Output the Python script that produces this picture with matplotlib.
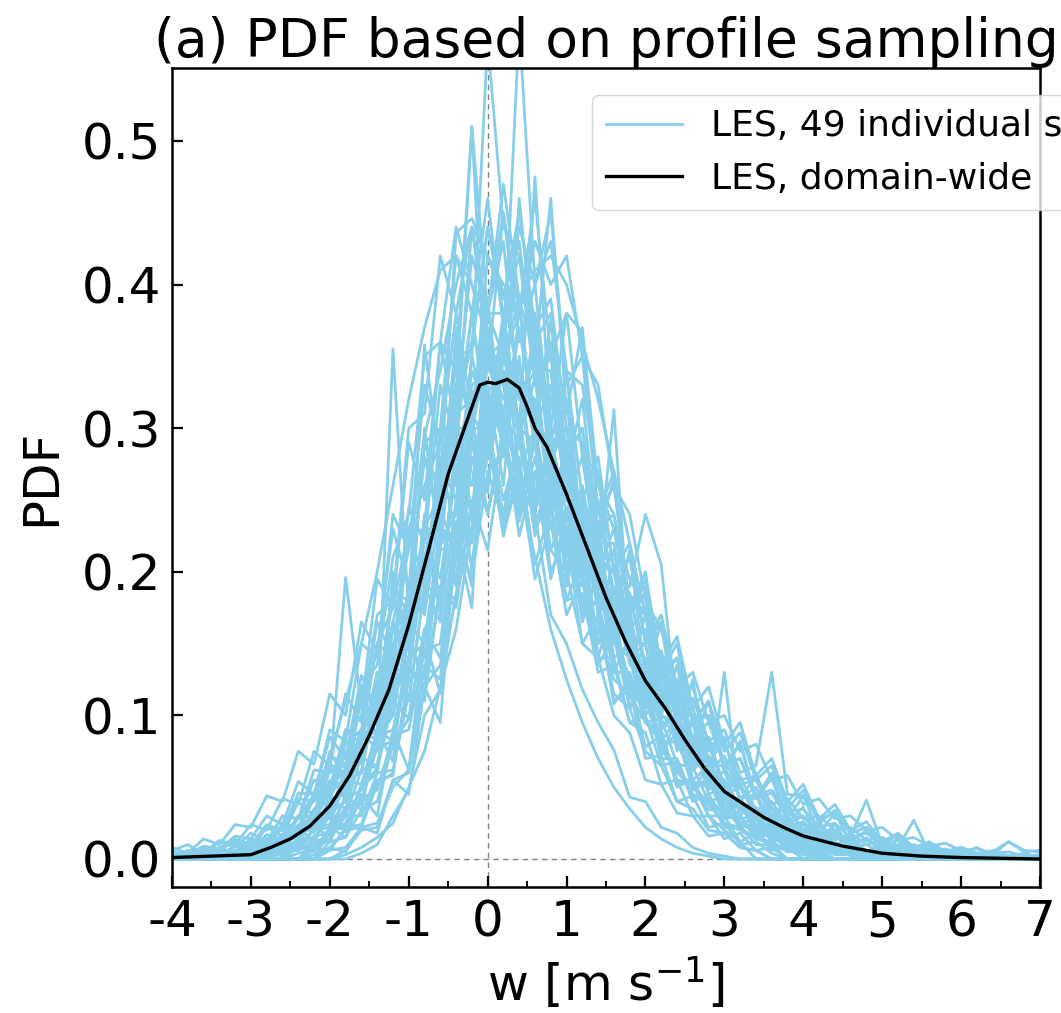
import matplotlib
matplotlib.use("Agg")
import matplotlib.pyplot as plt
from matplotlib.ticker import MultipleLocator
import numpy as np

plt.rcParams['font.family'] = ['DejaVu Sans']
plt.rcParams['axes.unicode_minus'] = False

# ---------------- data ----------------
# Domain-wide PDF (black line)
w_domain = [-4.0, -3.5, -3.0, -2.75, -2.5, -2.25, -2.0, -1.75, -1.5, -1.25, -1.0,
            -0.75, -0.5, -0.25, -0.1, 0.0, 0.1, 0.25, 0.4, 0.5, 0.6, 0.75, 1.0,
            1.25, 1.5, 1.75, 2.0, 2.25, 2.5, 2.75, 3.0, 3.25, 3.5, 3.75, 4.0,
            4.5, 5.0, 5.5, 6.0, 7.0]
pdf_domain = [0.001, 0.002, 0.003, 0.008, 0.014, 0.023, 0.037, 0.058, 0.086, 0.118,
              0.163, 0.215, 0.268, 0.307, 0.330, 0.332, 0.331, 0.334, 0.328, 0.315,
              0.300, 0.287, 0.254, 0.218, 0.182, 0.151, 0.124, 0.105, 0.083, 0.063,
              0.047, 0.038, 0.029, 0.022, 0.016, 0.009, 0.004, 0.002, 0.001, 0.000]

# Bin centres of the individual-sample PDFs (w from -4 to 7, step 0.2)
w_samples = [round(-4.0 + 0.2 * i, 1) for i in range(56)]

# 49 individual sample PDFs, values in units of 1e-3 (omitted trailing values are zero)
sample_pdf_milli = [
    [0,0,0,0,0,0,0,0,0,6, 14,34,40,82,100,160,185,290,310,420, 380,470,390,380,300,290,215,205,150,140, 95,88,55,52,30,20,12],
    [0,0,0,0,0,0,0,0,0,0, 12,15,34,40,80,98,160,180,290,300, 420,390,450,370,390,300,290,210,200,145, 140,95,90,52,55,30,30,14,18,6, 8],
    [0,0,0,0,0,0,0,4,12,14, 32,40,82,100,160,180,290,300,420,380, 460,370,390,290,300,215,200,140,140,95, 88,52,55,30,30,14,18,6,8],
    [0,0,0,0,0,0,0,0,0,0, 6,8,22,25,50,62,120,135,210,240, 350,360,440,400,430,340,330,260,240,180, 170,120,115,75,65,42,40,24,22,12, 10,5],
    [0,0,0,0,0,0,6,8,20,25, 50,62,120,135,210,240,350,360,440,400, 380,380,300,290,215,200,150,140,100,88, 55,52,32,30,16,18,8,6],
    [1,0,3,2,4,2,9,10,20,22, 40,48,82,90,140,150,225,230,300,300, 350,320,345,290,295,240,235,185,178,138, 130,100,95,70,62,44,42,28,28,18, 17,11,11,6,6,3,3,1],
    [0,0,2,0,3,0,5,6,14,14, 30,30,62,66,115,110,190,185,275,260, 345,310,370,300,330,250,280,205,215,150, 160,110,125,80,85,50,52,32,35,22, 24,12,16,8,10,4,5,2,2],
    [0,3,0,5,2,9,8,22,20,44, 46,90,85,150,140,245,220,330,290,380, 300,360,270,300,230,240,175,180,130,130, 95,98,66,64,40,44,28,30,16,18, 10,12,6,6,2,4,0,2],
    [0,0,0,0,0,3,2,4,9,8, 20,22,42,48,86,90,145,150,235,225, 320,290,370,310,360,280,300,230,240,180, 190,130,140,95,100,65,70,42,46,28, 30,18,20,10,14,6,7,3,4,2, 2],
    [3,0,4,2,9,8,22,20,46,45, 90,82,150,140,240,215,330,290,380,310, 360,280,310,230,250,180,185,130,135,95, 100,65,68,40,45,28,30,16,18,10, 12,6,6,3,4,1,2],
    [4,2,7,5,14,10,24,20,42,40, 72,66,110,100,160,150,225,195,270,240, 300,250,290,235,260,205,225,175,190,140, 150,105,115,85,95,65,70,45,48,32, 35,22,25,15,18,10,13,7,9,5, 6,3,4,2,3,1],
    [0,0,0,5,3,9,8,17,15,30, 30,55,52,90,82,135,120,190,175,250, 215,290,240,300,240,280,210,250,185,210, 150,170,120,130,95,100,75,80,55,58, 38,42,28,30,20,22,13,15,9,11, 6,7,4,5,2,3],
    [8,4,14,10,24,22,44,40,75,66, 115,100,165,145,230,190,280,230,310,240, 300,225,270,195,235,170,195,135,155,105, 120,82,98,62,72,45,50,30,36,22, 26,15,18,10,13,7,9,4,6,3, 4,1,2,0],
    [0,0,0,0,0,0,0,0,0,12, 12,36,38,88,355,170,175,300,300,440, 380,450,360,400,290,300,210,215,140,150, 95,90,50,55,30,30,12,18,6,8],
    [0,0,0,0,0,0,0,0,0,3, 8,20,22,52,60,125,130,220,240,350, 570,440,420,360,380,280,300,220,220,150, 150,90,110,55,65,35,40,16,20,8, 10],
    [0,0,0,0,3,5,6,14,15,30, 32,62,68,110,115,180,358,270,260,340, 310,360,300,320,260,275,205,210,155,160, 115,118,82,82,55,52,36,36,24,22, 14,15,8,9,4,5,2,2,0],
    [0,0,0,0,0,2,4,9,9,20, 22,42,48,85,90,140,150,230,225,310, 290,370,300,360,280,300,235,245,180,190, 240,205,100,100,68,64,42,45,26,30, 15,20,10,14,5,8,2,4,0],
    [2,0,4,2,6,5,14,14,30,30, 62,65,115,110,185,180,280,260,345,300, 365,300,330,255,280,205,215,150,160,112, 118,80,82,54,50,130,34,28,22,14, 15,8,9,4,5,2,2,1],
    [0,3,2,7,5,13,10,24,20,42, 40,75,66,115,100,165,150,230,195,280, 240,300,245,290,230,255,200,220,170,185, 135,145,105,112,82,90,60,65,130,45, 44,28,32,18,22,12,16,8,11,5, 8,3,6,2,4,1],
    [0,0,0,0,0,0,0,6,6,22, 24,55,60,130,130,225,230,360,340,510, 380,430,320,350,240,260,170,180,110,118, 70,72,40,44,22,25,10,12,4],
    [0,0,0,0,0,0,0,0,0,0, 0,6,20,22,55,60,135,125,230,230, 380,350,580,400,450,330,350,240,260,175, 175,115,120,70,70,42,42,22,24,12, 12,6],
    [0,0,2,0,4,2,8,8,20,20, 42,45,86,84,145,140,235,215,320,510, 300,380,300,475,300,290,205,220,155,165, 110,120,80,85,52,54,35,36,22,22, 13,14,7,9,3,4,1,2,0],
    [6,10,3,12,8,18,12,30,28,55, 50,90,80,130,120,190,170,245,210,290, 240,300,235,280,215,245,190,210,155,170, 120,135,95,105,75,80,55,58,38,42, 28,30,20,22,13,15,9,10,5,7, 4,8,3,12,5,6],
    [0,0,0,2,0,4,0,6,6,13, 14,30,30,60,62,115,110,190,180,280, 260,350,305,370,290,340,250,280,200,220, 150,165,110,120,80,82,52,55,34,36, 20,24,14,16,41,10,8,27,4,3, 2,1],
    [0,0,0,0,0,0,0,0,8,5, 22,24,50,60,130,125,225,235,350,355, 440,390,430,340,340,250,245,180,165,120, 115,75,65,45,40,25,22,14,12,6, 6,2],
    [0,4,2,6,5,14,12,30,28,62, 60,196,105,195,175,290,250,360,300,380, 300,340,250,290,200,225,150,170,108,125, 78,86,52,55,34,36,22,24,13,15, 8,9,4,5,2,3,1],
    [2,6,4,13,10,24,20,42,38,75, 65,115,95,165,140,230,190,280,225,310, 240,300,225,270,195,240,165,200,130,155, 100,120,78,98,60,72,42,50,30,36, 20,26,13,18,10,13,6,9,4,6, 2,4,1,2,0,0],
    [0,0,0,0,0,0,4,14,14,35, 40,85,100,170,180,300,310,420,380,440, 360,330,260,240,170,150,118,95,76,43, 40,22,18,8,4,2],
    [0,0,0,0,0,0,0,0,0,0, 0,0,4,10,30,48,100,118,185,225, 300,350,380,430,400,420,350,330,260,240, 180,160,115,100,65,55,35,28,15,10, 6,3],
    [0,2,0,3,0,6,3,13,10,30, 28,65,60,115,110,190,175,275,250,350, 300,370,295,335,250,285,195,235,150,175, 105,130,75,95,48,62,30,45,18,28, 10,18,5,11,2,6,1,3,0],
    [0,0,0,0,0,0,2,6,8,16, 18,36,40,78,82,140,140,215,220,300, 300,350,320,340,300,380,367,260,230,195, 175,130,120,82,80,50,52,30,32,18, 20,10,11,5,6,2,2],
    [0,0,0,0,0,0,0,0,0,0, 20,22,52,62,120,130,205,240,330,360, 440,380,420,330,350,260,250,175,170,115, 118,70,70,42,42,22,22,10,10],
    [0,0,2,0,6,2,12,5,24,10, 42,35,72,62,110,98,160,140,225,195, 270,235,300,245,290,225,260,200,230,170, 195,135,155,105,120,80,95,58,70,40, 52,28,38,20,26,12,18,8,12,5, 8,4,5,12,6,5],
    [0,0,3,0,6,4,14,10,30,28, 66,60,118,105,190,170,290,250,360,300, 390,290,345,250,290,200,225,150,170,105, 125,75,88,48,55,32,38,20,24,12, 15,6,9,3,5,1,2,0],
    [0,0,0,0,0,0,0,0,0,7, 6,22,24,55,58,130,125,220,225,330, 340,450,380,460,350,380,280,270,200,185, 130,135,80,85,45,50,25,28,12,14, 5],
    [3,0,5,8,12,8,22,16,40,30, 75,55,115,85,165,130,230,170,285,220, 310,230,300,225,270,195,250,170,205,135, 170,100,135,80,110,60,82,42,60,28, 44,18,32,12,20,8,13,5,9,3, 6,2,4,1,2,0],
    [0,0,0,0,2,0,5,2,10,5, 22,15,45,30,90,62,155,115,235,190, 330,260,385,300,375,270,320,225,265,175, 200,130,150,95,110,65,80,42,56,25, 36,14,24,8,15,4,8,2,4,1, 2],
    [0,4,0,7,3,14,8,25,22,45, 50,80,90,150,175,230,260,290,310,360, 350,330,300,290,240,215,175,160,125,115, 95,82,60,52,38,35,24,23,14,12, 8,6,3,3,1],
    [0,0,0,0,0,0,0,0,10,20, 36,50,86,120,165,215,295,340,400,440, 420,395,330,320,250,230,175,165,115,105, 75,65,40,35,20,18,8,6],
    [2,0,0,2,2,5,8,12,22,28, 45,58,90,100,150,170,230,255,310,320, 355,345,340,310,285,250,230,190,175,140, 128,100,92,68,60,42,40,28,26,16, 16,10,9,6,5,3,3,1,1],
    [0,2,5,3,9,7,17,12,30,22, 55,45,90,75,135,110,190,165,250,205, 290,240,300,250,280,220,250,190,215,160, 175,125,140,95,110,75,88,55,65,35, 48,25,34,18,22,11,16,8,11,5, 8,4,5,2,3,1],
    [0,0,0,0,0,0,0,0,0,0, 8,5,22,18,55,45,120,95,225,175, 370,300,460,350,460,310,370,240,270,170, 185,110,125,65,72,38,42,18,22,8, 12,3],
    [0,2,0,3,0,5,2,10,6,22, 16,45,34,90,68,160,115,235,190,295, 255,370,290,370,270,320,220,270,170,215, 125,165,90,125,65,85,40,60,26,40, 16,26,9,16,5,10,2,5,1,2],
    [2,0,4,2,6,3,14,8,30,18, 65,40,120,80,200,145,300,220,370,290, 390,280,350,240,300,190,240,140,180,105, 135,72,98,48,65,28,44,16,28,8, 18,4,10,2,5,0,2],
    [0,0,0,0,0,0,0,0,4,7, 19,25,50,63,120,135,210,260,436,446, 420,400,390,350,320,265,235,185,160,125, 110,78,62,45,38,25,20,14,11,5, 5,2],
    [5,3,9,7,16,14,30,24,54,45, 85,70,128,102,185,145,240,180,290,200, 295,225,280,205,245,180,210,150,170,118, 130,90,102,70,80,50,58,34,40,24, 30,16,20,11,14,7,10,5,7,3, 5,2,3,1,1,0],
    [0,0,0,0,0,0,0,0,0,0, 0,3,8,15,25,50,75,120,160,230, 280,350,390,410,420,400,360,320,270,220, 170,140,100,80,55,40,25,18,10,6, 3],
    [0,0,0,0,0,2,8,15,28,45, 70,110,150,200,260,320,370,410,420,400, 360,310,260,210,160,125,95,70,50,35, 22,14,8,4,2],
    [0,0,0,2,3,4,9,10,18,26, 34,56,70,104,118,170,198,255,280,325, 325,340,320,310,270,340,218,205,313,150, 120,112,86,78,57,50,38,34,24,21, 15,14,9,8,4,4,2,2,1],
]

x_ticks = [-4, -3, -2, -1, 0, 1, 2, 3, 4, 5, 6, 7]
y_ticks = [0.0, 0.1, 0.2, 0.3, 0.4, 0.5]

label_samples = "LES, 49 individual samples"
label_domain = "LES, domain-wide"

# ---------------- figure ----------------
fig = plt.figure(figsize=(10.61, 10.13), dpi=100)
ax = fig.add_axes([172/1061, 1 - 887/1013, 868/1061, 819/1013])

ax.axvline(0, color='gray', lw=1.0, ls=(0, (4, 3)), zorder=1)
ax.axhline(0, color='gray', lw=1.0, ls=(0, (4, 3)), zorder=1)

n = len(w_samples)
for k, row in enumerate(sample_pdf_milli):
    vals = np.zeros(n)
    r = np.array(row[:n], dtype=float) / 1000.0
    vals[:len(r)] = r
    ax.plot(w_samples, vals, color='skyblue', lw=2.0, zorder=2,
            label=label_samples if k == 0 else None)

ax.plot(w_domain, pdf_domain, color='black', lw=2.4, zorder=3, label=label_domain)

ax.set_xlim(-4, 7)
ax.set_ylim(-0.0195, 0.5508)
ax.set_xticks(x_ticks)
ax.set_xticklabels([str(t) for t in x_ticks])
ax.set_yticks(y_ticks)
ax.set_yticklabels([f"{t:.1f}" for t in y_ticks])
ax.xaxis.set_minor_locator(MultipleLocator(0.5))

ax.tick_params(axis='both', which='major', direction='in', length=8, width=1.6,
               labelsize=36, pad=8, top=False, right=False)
ax.tick_params(axis='x', which='minor', direction='in', length=4, width=1.4)
for s in ax.spines.values():
    s.set_linewidth(1.8)

ax.set_xlabel(r"w [m s$^{-1}$]", fontsize=36, labelpad=6)
ax.set_ylabel("PDF", fontsize=36, labelpad=12)
ax.set_title("(a) PDF based on profile sampling", fontsize=38.5, pad=8)

leg = ax.legend(loc='upper left', bbox_to_anchor=(0.4839, 0.967), borderaxespad=0,
                fontsize=26, handlelength=2.1)
leg.set_zorder(10)

fig.savefig("out.png", dpi=100)
